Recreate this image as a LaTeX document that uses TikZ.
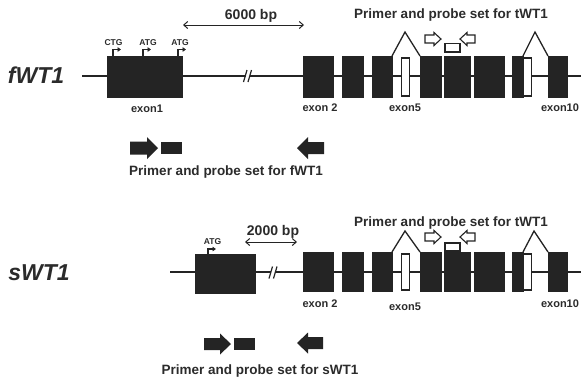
\documentclass[tikz,border=0pt]{standalone}
\usepackage{fontspec}
\setmainfont{Liberation Sans}
\usetikzlibrary{arrows.meta}
\definecolor{ink}{HTML}{242424}
\definecolor{txt}{HTML}{2B2B2B}
\begin{document}
\begin{tikzpicture}[x=1pt,y=-1pt,
  exon/.style={fill=ink, draw=ink, line width=0.5pt, inner sep=0pt, outer sep=0pt},
  wexon/.style={fill=white, draw=ink, line width=1.2pt, inner sep=0pt, outer sep=0pt},
  gene/.style={draw=ink, line width=1.3pt},
  brk/.style={draw=ink, line width=1.2pt},
  hat/.style={draw=ink, line width=1.3pt, line join=miter},
  startarr/.style={draw=ink, line width=1.1pt, -{Triangle[length=3.5pt,width=4.5pt]}},
  dimarr/.style={draw=ink, line width=1pt, {Straight Barb[length=4pt,width=7pt]}-{Straight Barb[length=4pt,width=7pt]}},
  blockarr/.style={fill=ink},
  openarr/.style={draw=ink, fill=white, line width=1.1pt, line join=miter},
  genelbl/.style={font=\bfseries\itshape\fontsize{23}{23}\selectfont, text=txt, inner sep=0pt},
  exlbl/.style={font=\bfseries\fontsize{11}{11}\selectfont, text=txt, inner sep=0pt},
  codon/.style={font=\bfseries\fontsize{8.5}{8.5}\selectfont, text=txt, inner sep=0pt},
  bplbl/.style={font=\bfseries\fontsize{14}{14}\selectfont, text=txt, inner sep=0pt},
  prlbl/.style={font=\bfseries\fontsize{13.5}{13.5}\selectfont, text=txt, inner sep=0pt}
]
\useasboundingbox[fill=white] (0,0) rectangle (581,376);

% ---------- gene lines ----------
\coordinate (tstart) at (82,76);
\coordinate (tbrkL) at (245.5,76);
\coordinate (tbrkR) at (249.5,76);
\coordinate (tend) at (581,76);
\draw[gene] (tstart) -- (tbrkL);
\draw[gene] (tbrkR) -- (tend);
\draw[brk] (243.5,82) -- (247,70);
\draw[brk] (248,82) -- (251.5,70);

\coordinate (bstart) at (170,272);
\coordinate (bbrkL) at (271,272);
\coordinate (bbrkR) at (275,272);
\coordinate (bend) at (581,272);
\draw[gene] (bstart) -- (bbrkL);
\draw[gene] (bbrkR) -- (bend);
\draw[brk] (269,278.5) -- (272.5,266.5);
\draw[brk] (273.5,278.5) -- (277,266.5);

% ---------- exons ----------
\node[exon, minimum width=75pt, minimum height=41pt] (t1) at (144.5,76.5) {};
\node[exon, minimum width=60pt, minimum height=39pt] (b1) at (225,273.5) {};
\foreach \r/\yc/\h in {t/76.5/41, b/271.5/39} {
  \foreach \n/\c/\w in {2/318/30, 3/352.5/21, 4/382/20, 6/430.5/21, 7/457/26, 8/489/30, 9/517.5/11, 10/557.5/19}
    \node[exon, minimum width=\w pt, minimum height=\h pt] (\r\n) at (\c,\yc) {};
  \node[wexon, minimum width=8pt, minimum height=\h pt - 3pt] (\r5) at (405.5,\yc+0.5) {};
  \node[wexon, minimum width=8pt, minimum height=\h pt - 3pt] (\r9w) at (527.5,\yc+0.5) {};
}

% ---------- splice hats ----------
\draw[hat] (t4.north east) -- (405,32) -- (t6.north west);
\draw[hat] (t9.north east) -- (535,32) -- (t10.north west);
\draw[hat] (b4.north east) -- (405,231) -- (b6.north west);
\draw[hat] (b9.north east) -- (534,231) -- (b10.north west);

% ---------- start codons ----------
\draw[startarr] ([xshift=6pt]t1.north west) |- ++(8,-6.5);
\draw[startarr] ([xshift=36pt]t1.north west) |- ++(8,-6.5);
\draw[startarr] ([xshift=71pt]t1.north west) |- ++(8,-6.5);
\draw[startarr] ([xshift=13pt]b1.north west) |- ++(8,-5);
\node[codon] (ctg) at (113.5,43) {CTG};
\node[codon] (atg1) at (148,43) {ATG};
\node[codon] (atg2) at (180,43) {ATG};
\node[codon] (atg3) at (212.5,241.5) {ATG};

% ---------- distance arrows ----------
\node[bplbl] (bp6) at (251,16) {6000 bp};
\coordinate (d6a) at (183,25);
\coordinate (d6b) at (304,25);
\draw[dimarr] (d6a) -- (d6b);
\node[bplbl] (bp2) at (273,232) {2000 bp};
\coordinate (d2a) at (245,242);
\coordinate (d2b) at (297,242);
\draw[dimarr] (d2a) -- (d2b);

% ---------- gene labels ----------
\node[genelbl] (fwt) at (36,75) {fWT1};
\node[genelbl] (swt) at (39,273) {sWT1};

% ---------- exon labels ----------
\node[exlbl] (lx1) at (147,109) {exon1};
\node[exlbl] (lx2t) at (320,108) {exon 2};
\node[exlbl] (lx5t) at (405,108) {exon5};
\node[exlbl] (lx10t) at (560,108) {exon10};
\node[exlbl] (lx2b) at (320,304) {exon 2};
\node[exlbl] (lx5b) at (405,307) {exon5};
\node[exlbl] (lx10b) at (560,304) {exon10};

% ---------- tWT1 primer/probe (top) ----------
\draw[openarr] (425,35) -- (434,35) -- (434,32.5) -- (441,39) -- (434,45.5) -- (434,43) -- (425,43) -- cycle;
\draw[openarr] (445,43.5) rectangle (460,52);
\draw[openarr] (475,35) -- (467,35) -- (467,32.5) -- (460,39) -- (467,45.5) -- (467,43) -- (475,43) -- cycle;
\node[prlbl] (ptt) at (451,15) {Primer and probe set for tWT1};

% ---------- tWT1 primer/probe (bottom) ----------
\draw[openarr] (425,233) -- (434,233) -- (434,230.5) -- (441,237) -- (434,243.5) -- (434,241) -- (425,241) -- cycle;
\draw[openarr] (445,243) rectangle (460,251);
\draw[openarr] (475,233) -- (467,233) -- (467,230.5) -- (460,237) -- (467,243.5) -- (467,241) -- (475,241) -- cycle;
\node[prlbl] (ptb) at (451,223) {Primer and probe set for tWT1};

% ---------- fWT1 primer/probe ----------
\fill[blockarr] (130,141.5) -- (147,141.5) -- (147,137) -- (158,148) -- (147,159) -- (147,154.5) -- (130,154.5) -- cycle;
\fill[blockarr] (161,141.5) rectangle (182,154);
\fill[blockarr] (324,142) -- (308,142) -- (308,137) -- (297,148) -- (308,159) -- (308,154) -- (324,154) -- cycle;
\node[prlbl] (pf) at (226,172) {Primer and probe set for fWT1};

% ---------- sWT1 primer/probe ----------
\fill[blockarr] (204,338) -- (220,338) -- (220,333.5) -- (231,344) -- (220,354.5) -- (220,350) -- (204,350) -- cycle;
\fill[blockarr] (234,338) rectangle (255,350);
\fill[blockarr] (323,337) -- (308,337) -- (308,332.5) -- (297,343) -- (308,353.5) -- (308,349) -- (323,349) -- cycle;
\node[prlbl] (ps) at (260,371) {Primer and probe set for sWT1};
\end{tikzpicture}
\end{document}
